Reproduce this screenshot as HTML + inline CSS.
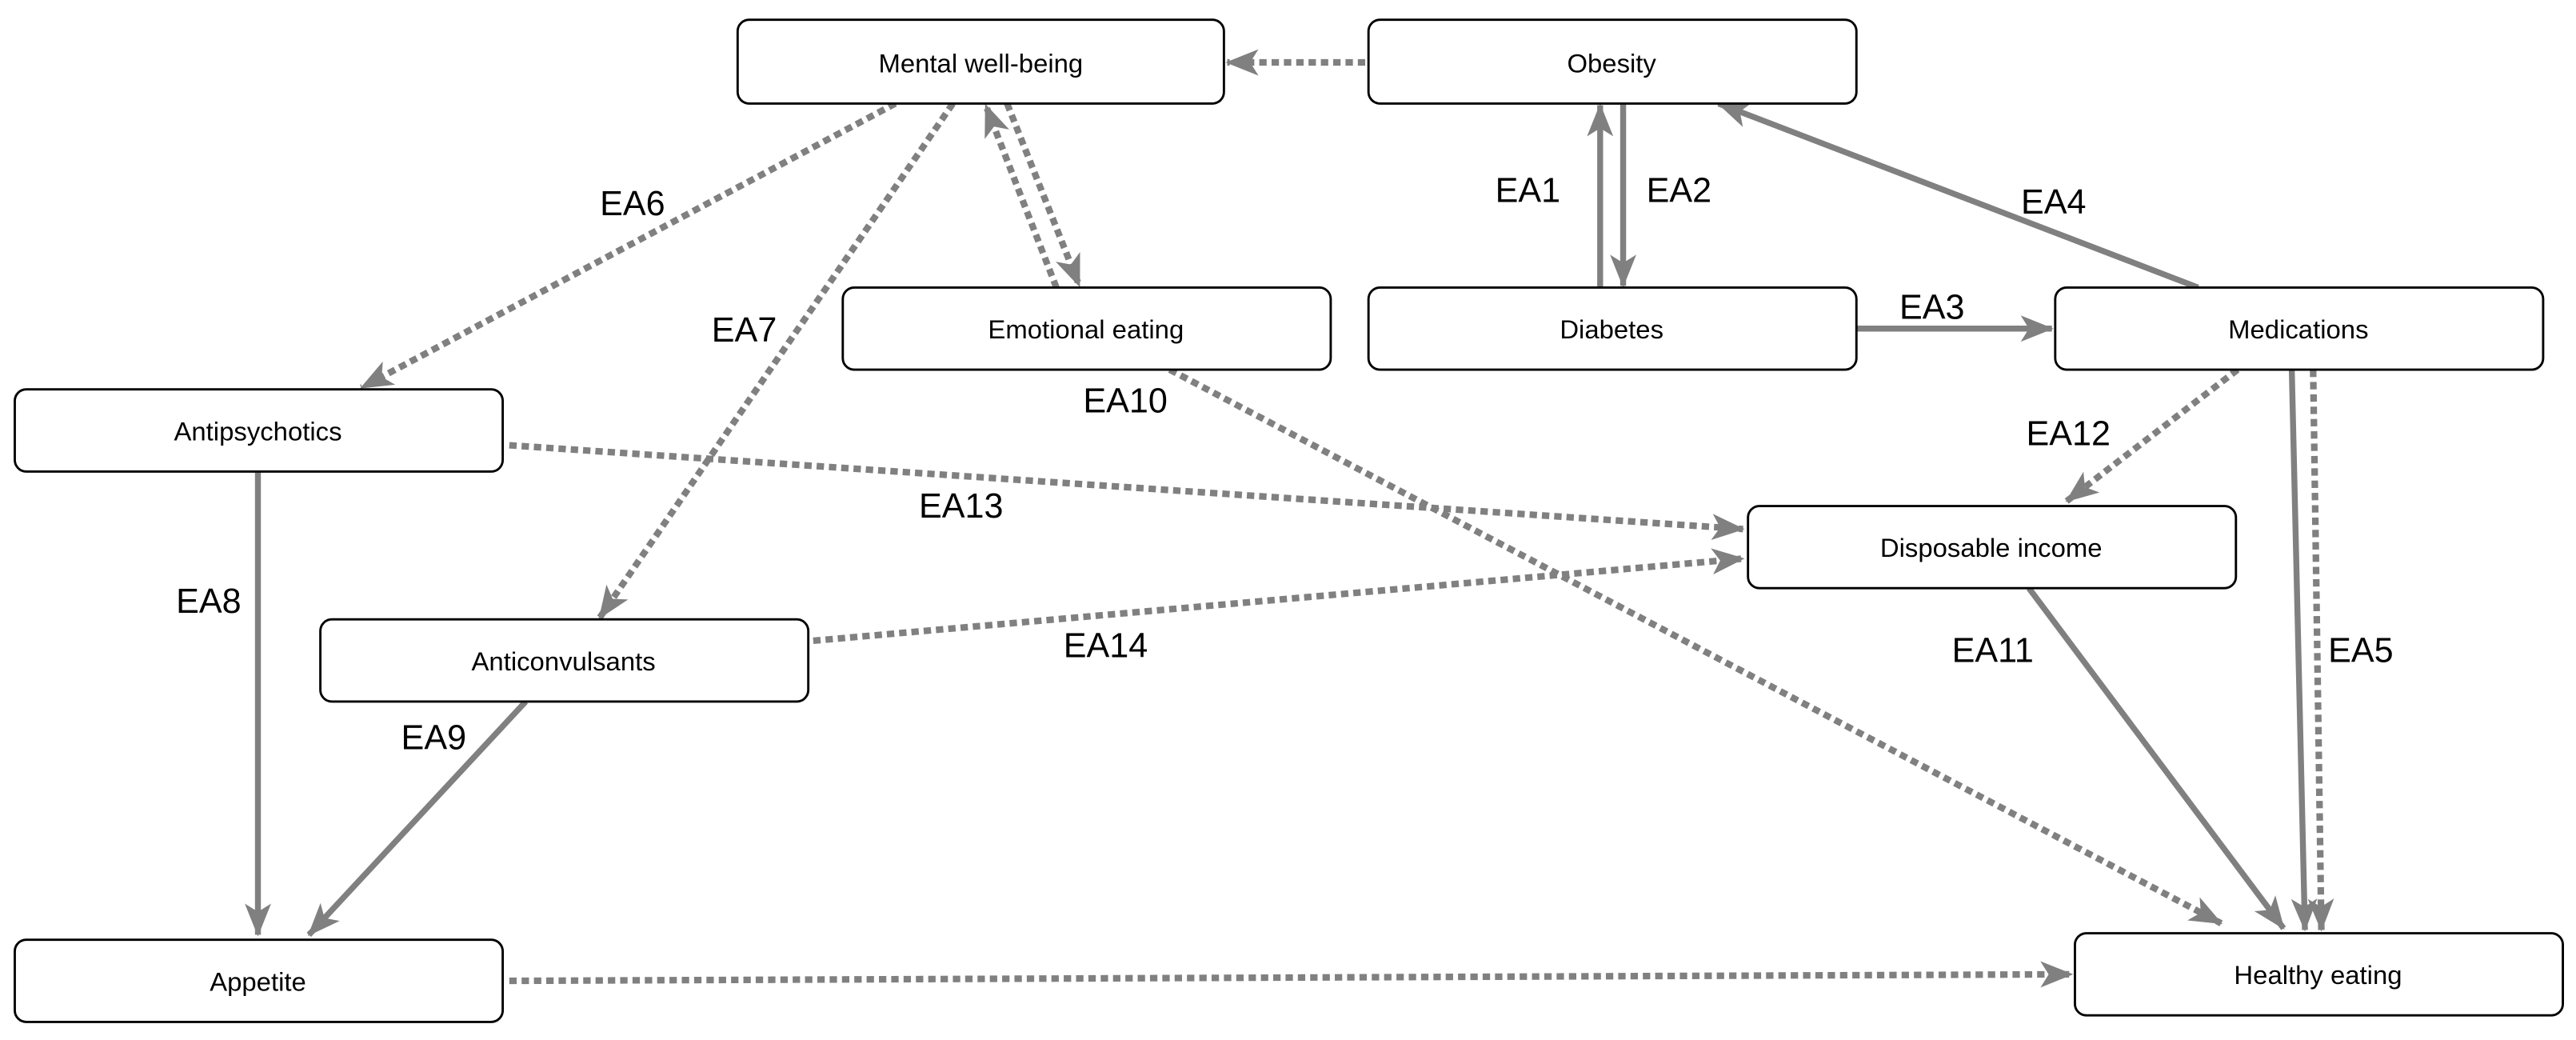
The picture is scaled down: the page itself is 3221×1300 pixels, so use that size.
<!DOCTYPE html>
<html><head><meta charset="utf-8"><style>
html,body{margin:0;padding:0;background:#fff;}
svg{display:block;}
</style></head><body>
<svg width="3221" height="1300" viewBox="0 0 1568 633" preserveAspectRatio="none" xmlns="http://www.w3.org/2000/svg">
<defs>
<marker id="a" viewBox="0 0 20 16" refX="19" refY="8" markerWidth="20" markerHeight="16" markerUnits="userSpaceOnUse" orient="auto">
<path d="M0,0 L20,8 L0,16 L5,8 z" fill="#808080"/>
</marker>
</defs>
<g fill="none" stroke="#808080" stroke-width="3.6">
<g stroke-dasharray="4.5,3" stroke-width="4">
<line x1="831" y1="38" x2="747" y2="38" marker-end="url(#a)"/>
<line x1="545" y1="63" x2="220" y2="236" marker-end="url(#a)"/>
<line x1="580" y1="63" x2="365" y2="376" marker-end="url(#a)"/>
<line x1="643" y1="175" x2="600" y2="64" marker-end="url(#a)"/>
<line x1="613" y1="63" x2="657" y2="174" marker-end="url(#a)"/>
<line x1="712" y1="225" x2="1352" y2="562" marker-end="url(#a)"/>
<line x1="1362" y1="225" x2="1258" y2="305" marker-end="url(#a)"/>
<line x1="310" y1="271" x2="1061" y2="322" marker-end="url(#a)"/>
<line x1="495" y1="390" x2="1061" y2="340" marker-end="url(#a)"/>
<line x1="1408" y1="225" x2="1413" y2="566" marker-end="url(#a)"/>
<line x1="310" y1="597" x2="1261" y2="593" marker-end="url(#a)"/>
</g>
<line x1="974" y1="175" x2="974" y2="64" marker-end="url(#a)"/>
<line x1="988" y1="63" x2="988" y2="174" marker-end="url(#a)"/>
<line x1="1130" y1="200" x2="1249" y2="200" marker-end="url(#a)"/>
<line x1="1338" y1="175" x2="1046" y2="63" marker-end="url(#a)"/>
<line x1="1395" y1="225" x2="1403" y2="566" marker-end="url(#a)"/>
<line x1="1235" y1="358" x2="1390" y2="565" marker-end="url(#a)"/>
<line x1="157" y1="287" x2="157" y2="569" marker-end="url(#a)"/>
<line x1="320" y1="427" x2="188" y2="569" marker-end="url(#a)"/>
</g>
<g fill="#fff" stroke="#000" stroke-width="1.4">
<rect x="449" y="12" width="296" height="51" rx="7"/>
<rect x="833" y="12" width="297" height="51" rx="7"/>
<rect x="513" y="175" width="297" height="50" rx="7"/>
<rect x="833" y="175" width="297" height="50" rx="7"/>
<rect x="1251" y="175" width="297" height="50" rx="7"/>
<rect x="9" y="237" width="297" height="50" rx="7"/>
<rect x="1064" y="308" width="297" height="50" rx="7"/>
<rect x="195" y="377" width="297" height="50" rx="7"/>
<rect x="9" y="572" width="297" height="50" rx="7"/>
<rect x="1263" y="568" width="297" height="50" rx="7"/>
</g>
<g font-family="Liberation Sans, Arial, sans-serif" font-size="16" fill="#000" text-anchor="middle">
<text x="597" y="44">Mental well-being</text>
<text x="981" y="44">Obesity</text>
<text x="661" y="206">Emotional eating</text>
<text x="981" y="206">Diabetes</text>
<text x="1399" y="206">Medications</text>
<text x="157" y="268">Antipsychotics</text>
<text x="1212" y="339">Disposable income</text>
<text x="343" y="408">Anticonvulsants</text>
<text x="157" y="603">Appetite</text>
<text x="1411" y="599">Healthy eating</text>
</g>
<g font-family="Liberation Sans, Arial, sans-serif" font-size="21" fill="#000" text-anchor="middle">
<text x="930" y="123">EA1</text>
<text x="1022" y="123">EA2</text>
<text x="1176" y="194">EA3</text>
<text x="1250" y="130">EA4</text>
<text x="1437" y="403">EA5</text>
<text x="385" y="131">EA6</text>
<text x="453" y="208">EA7</text>
<text x="127" y="373">EA8</text>
<text x="264" y="456">EA9</text>
<text x="685" y="251">EA10</text>
<text x="1213" y="403">EA11</text>
<text x="1259" y="271">EA12</text>
<text x="585" y="315">EA13</text>
<text x="673" y="400">EA14</text>
</g>
</svg>
</body></html>
